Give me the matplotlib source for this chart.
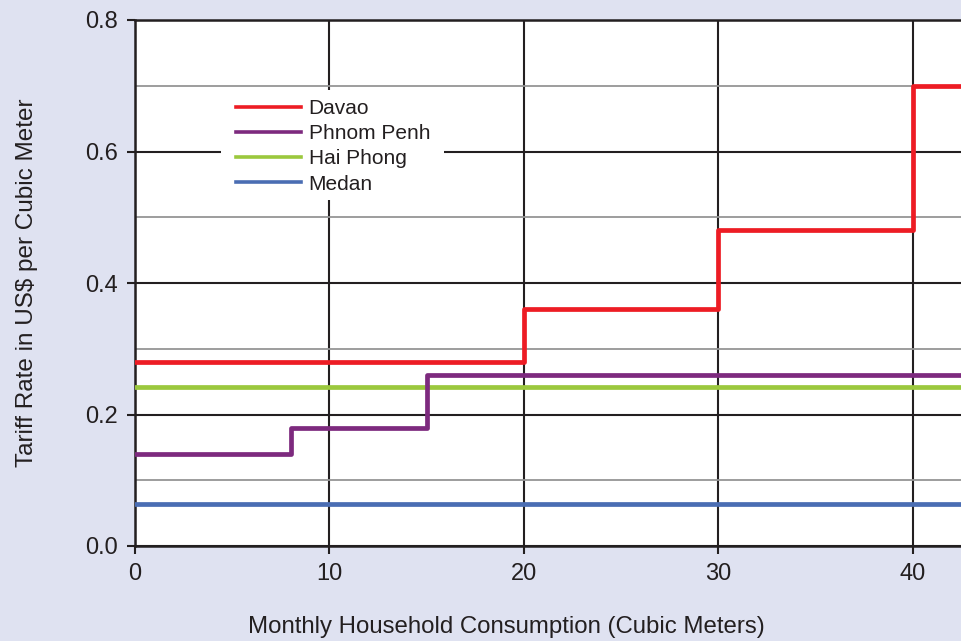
import matplotlib
matplotlib.use("Agg")
import matplotlib.pyplot as plt
from matplotlib.patches import Rectangle

plt.rcParams['font.family'] = ['Liberation Sans', 'DejaVu Sans']

# Data
davao_x = [0, 20, 30, 40, 45]
davao_y = [0.28, 0.36, 0.48, 0.70, 0.70]
phnom_x = [0, 8, 15, 45]
phnom_y = [0.14, 0.18, 0.26, 0.26]
haiphong_x = [0, 45]
haiphong_y = [0.242, 0.242]
medan_x = [0, 45]
medan_y = [0.064, 0.064]

x_ticks = [0, 10, 20, 30, 40]
y_ticks = [0.0, 0.2, 0.4, 0.6, 0.8]
y_minor = [0.1, 0.3, 0.5, 0.7]

bg = '#dfe2f1'
fig = plt.figure(figsize=(9.61, 6.41), dpi=100, facecolor=bg)
ax = fig.add_axes([135/961, (641-546)/641, 826/961, 526/641])
ax.set_facecolor('white')

ax.set_axisbelow(True)
ax.set_xlim(0, 42.47)
ax.set_ylim(0, 0.8)
ax.set_xticks(x_ticks)
ax.set_yticks(y_ticks)
ax.set_yticks(y_minor, minor=True)
ax.set_yticklabels([f"{v:.1f}" for v in y_ticks])
ax.grid(True, which='major', color='#231f20', linewidth=1.5)
ax.grid(True, which='minor', axis='y', color='#959595', linewidth=1.3)
ax.tick_params(axis='y', which='minor', length=0)
ax.tick_params(axis='both', which='major', length=6, width=1.5, color='#231f20',
               labelsize=17, labelcolor='#231f20', pad=6)

for s in ['left', 'bottom', 'top']:
    ax.spines[s].set_color('#231f20')
    ax.spines[s].set_linewidth(1.8)
ax.spines['right'].set_visible(False)

lw = 3.4
ax.step(medan_x, medan_y, where='post', color='#4a6db3', lw=lw, label='Medan', zorder=3)
ax.step(haiphong_x, haiphong_y, where='post', color='#9bc83d', lw=lw, label='Hai Phong', zorder=4)
ax.step(phnom_x, phnom_y, where='post', color='#7d2a7e', lw=lw, label='Phnom Penh', zorder=5)
ax.step(davao_x, davao_y, where='post', color='#ed1c24', lw=lw, label='Davao', zorder=6)

# white legend background
ax.add_patch(Rectangle((0.104, 0.658), 0.27, 0.209, transform=ax.transAxes,
                       facecolor='white', edgecolor='none', zorder=1))

handles, labels = ax.get_legend_handles_labels()
order = [3, 2, 1, 0]
leg = ax.legend([handles[i] for i in order], [labels[i] for i in order],
                loc='center left', bbox_to_anchor=(0.122, 0.760), frameon=False,
                fontsize=15, handlelength=3.15, handletextpad=0.35,
                labelspacing=0.30, borderpad=0, borderaxespad=0)
for t in leg.get_texts():
    t.set_color('#231f20')
for l in leg.get_lines():
    l.set_linewidth(2.6)

ax.set_xlabel('Monthly Household Consumption (Cubic Meters)', fontsize=17.3,
              color='#231f20')
ax.xaxis.set_label_coords(0.450, -0.133)
ax.set_ylabel('Tariff Rate in US$ per Cubic Meter', fontsize=17.5,
              color='#231f20', labelpad=34)

fig.savefig('out.png', dpi=100, facecolor=bg)
